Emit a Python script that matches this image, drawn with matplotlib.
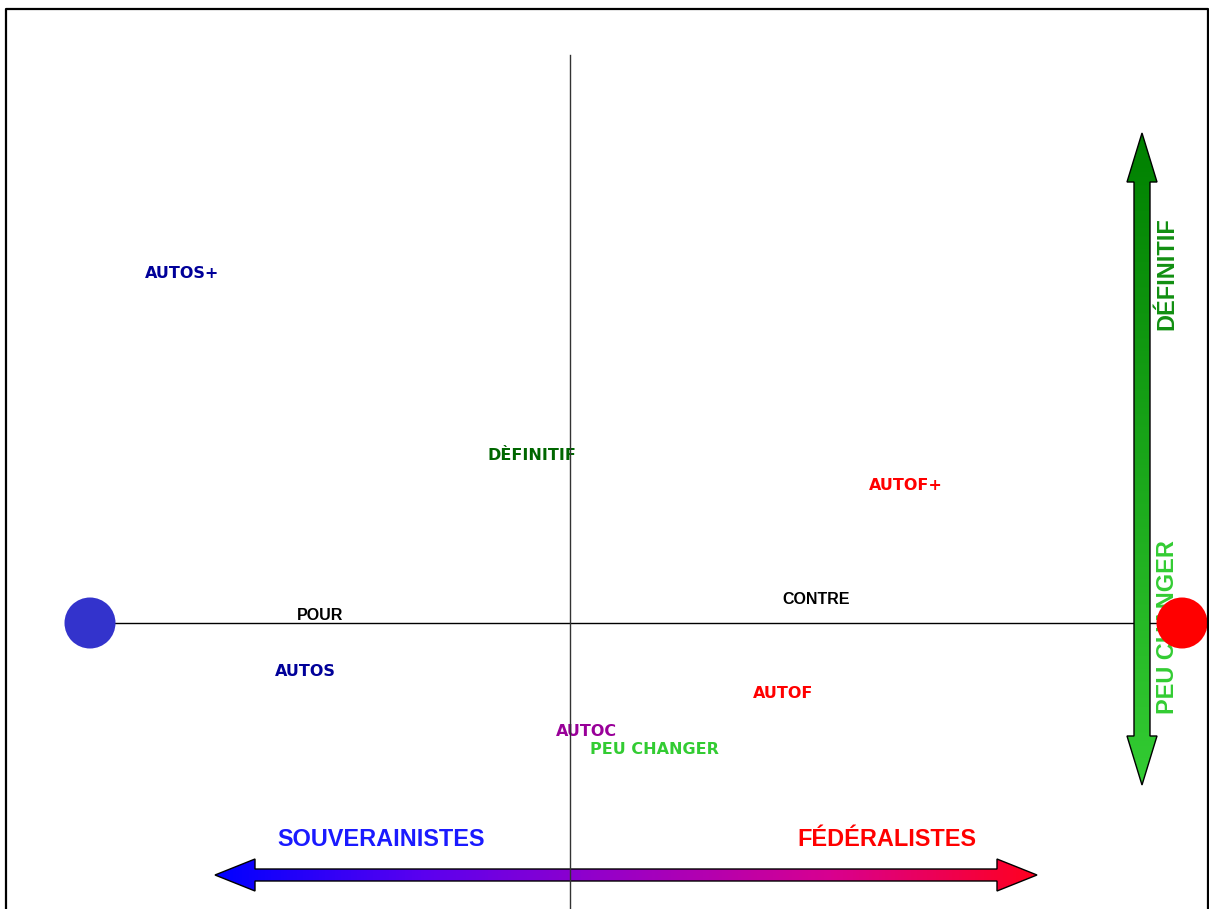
import matplotlib
matplotlib.use("Agg")
import matplotlib.pyplot as plt
import numpy as np
from matplotlib.patches import Polygon, Circle
from matplotlib.lines import Line2D
from matplotlib.colors import LinearSegmentedColormap

# modalités projetées sur le plan factoriel (axe 1 horizontal, axe 2 vertical)
labels = ['AUTOS+', 'DÈFINITIF', 'AUTOF+', 'POUR', 'CONTRE',
          'AUTOS', 'AUTOF', 'AUTOC', 'PEU CHANGER']
coord_x = [-3.88, -0.38, 3.36, -2.50, 2.46, -2.65, 2.13, 0.16, 0.84]
coord_y = [3.50, 1.68, 1.38, 0.08, 0.23, -0.49, -0.70, -1.08, -1.26]
label_colors = ['#000099', '#006600', '#ff0000', '#000000', '#000000',
                '#000099', '#ff0000', '#990099', '#33cc33']
label_fonts = ['DejaVu Sans', 'DejaVu Sans', 'DejaVu Sans', 'Liberation Sans', 'Liberation Sans',
               'DejaVu Sans', 'DejaVu Sans', 'DejaVu Sans', 'DejaVu Sans']

# pôles de l'axe 1
pole_x = [-4.80, 6.12]
pole_y = [0.0, 0.0]
pole_colors = ['#3333cc', '#ff0000']

# flèches d'interprétation
arrow_h = {'x0': -3.55, 'x1': 4.67, 'y': -2.52}
arrow_v = {'x': 5.72, 'y0': -1.62, 'y1': 4.90}
axis_labels_h = ['SOUVERAINISTES', 'FÉDÉRALISTES']
axis_labels_h_x = [-1.89, 3.17]
axis_labels_h_y = [-2.17, -2.17]
axis_labels_v = ['DÉFINITIF', 'PEU CHANGER']
axis_labels_v_x = [5.97, 5.97]
axis_labels_v_y = [3.49, -0.04]


def gradient_arrow(ax, p0, p1, half_shaft, half_head, head_len, cmap, zorder):
    """Flèche double remplie d'un dégradé de p0 vers p1"""
    p0 = np.array(p0, dtype=float)
    p1 = np.array(p1, dtype=float)
    d = (p1 - p0) / np.linalg.norm(p1 - p0)
    n = np.array([-d[1], d[0]])
    b0 = p0 + d * head_len
    b1 = p1 - d * head_len
    verts = [p0, b0 + n * half_head, b0 + n * half_shaft, b1 + n * half_shaft,
             b1 + n * half_head, p1, b1 - n * half_head, b1 - n * half_shaft,
             b0 - n * half_shaft, b0 - n * half_head]
    verts = np.array(verts)
    patch = Polygon(verts, closed=True, facecolor='none', edgecolor='black',
                    linewidth=1.0, zorder=zorder + 0.1)
    ax.add_patch(patch)
    xmin, ymin = verts.min(axis=0)
    xmax, ymax = verts.max(axis=0)
    grad = np.linspace(0, 1, 256)
    if abs(d[0]) > abs(d[1]):
        grad = grad.reshape(1, -1)
    else:
        grad = grad.reshape(-1, 1)
    im = ax.imshow(grad, cmap=cmap, extent=[xmin, xmax, ymin, ymax],
                   aspect='auto', origin='lower', zorder=zorder, interpolation='bilinear')
    im.set_clip_path(patch)


fig = plt.figure(figsize=(12.09, 9.09), dpi=100)
ax = fig.add_axes([0, 0, 1, 1])
ax.set_axis_off()

# axes factoriels
ax.plot(pole_x, pole_y, color='black', linewidth=1.0, zorder=1)
ax.plot([0, 0], [5.68, -2.86], color='#333333', linewidth=1.0, zorder=5)

# flèche horizontale bleu -> rouge
cmap_h = LinearSegmentedColormap.from_list('sf', ['#0000ff', '#5a00f0', '#9c00c4', '#d80090', '#ff0020'])
gradient_arrow(ax, (arrow_h['x0'], arrow_h['y']), (arrow_h['x1'], arrow_h['y']),
               0.06, 0.16, 0.40, cmap_h, 2)

# flèche verticale vert clair -> vert foncé
cmap_v = LinearSegmentedColormap.from_list('dp', ['#33cc33', '#008000'])
gradient_arrow(ax, (arrow_v['x'], arrow_v['y0']), (arrow_v['x'], arrow_v['y1']),
               0.08, 0.15, 0.49, cmap_v, 3)

# modalités
for lab, x, y, c, f in zip(labels, coord_x, coord_y, label_colors, label_fonts):
    ax.text(x, y, lab, color=c, fontsize=11.5, fontweight='bold', family=f,
            ha='center', va='center', zorder=4)

# libellés des flèches
for lab, x, y, c in zip(axis_labels_h, axis_labels_h_x, axis_labels_h_y, ['#1a1aff', '#ff0000']):
    ax.text(x, y, lab, color=c, fontsize=16.9, fontweight='bold', family='Liberation Sans',
            ha='center', va='center', zorder=4)
for lab, x, y, c in zip(axis_labels_v, axis_labels_v_x, axis_labels_v_y, ['#118f11', '#33cc33']):
    ax.text(x, y, lab, color=c, fontsize=16.9, fontweight='bold', family='Liberation Sans',
            ha='center', va='center', rotation=90, zorder=4)

# pôles
for x, y, c in zip(pole_x, pole_y, pole_colors):
    ax.add_patch(Circle((x, y), 0.255, facecolor=c, edgecolor='none', zorder=6))

ax.set_xlim(-5.70, 6.39)
ax.set_ylim(-2.86, 6.23)

# cadre
fx = [6 / 1209, 6 / 1209, 1208 / 1209, 1208 / 1209]
fy = [0, 1 - 8.5 / 909, 1 - 8.5 / 909, 0]
fig.add_artist(Line2D(fx, fy, color='black', linewidth=1.6, transform=fig.transFigure))

fig.savefig('out.png', dpi=100)
